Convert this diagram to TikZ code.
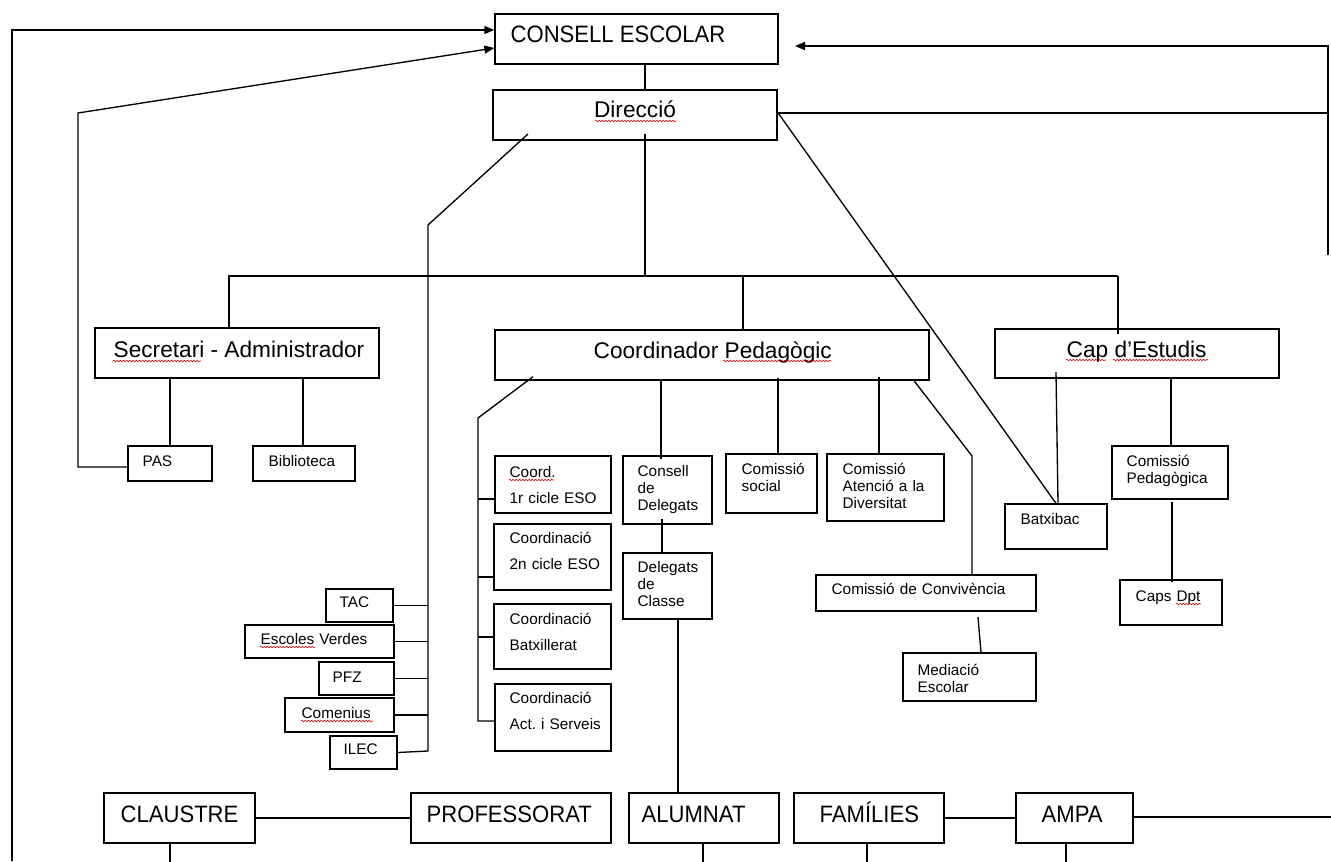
\documentclass[tikz,border=0pt]{standalone}
\usepackage{fontspec}
\setmainfont{Liberation Sans}
\newfontfamily\narrowfont[FakeStretch=0.93]{Liberation Sans}
\usetikzlibrary{arrows.meta,fit,decorations.pathmorphing}
\frenchspacing

\tikzset{every picture/.style={line width=1pt}}
\tikzset{
  box/.style={draw, inner sep=0pt},
  bigtxt/.style={font=\fontsize{17}{20}\selectfont, inner sep=0pt},
  captxt/.style={font=\narrowfont\fontsize{17.8}{20}\selectfont, inner sep=0pt, anchor=base west},
  smalltxt/.style={font=\fontsize{11.5}{13}\selectfont, inner sep=0pt, anchor=base west, align=left, text width=200pt},
  arr/.style={-{Triangle[length=7.5pt,width=6pt]}},
  spell/.style={red!85!black, line width=0.45pt, decorate, decoration={snake, amplitude=0.55pt, segment length=2.4pt}}
}

\begin{document}
\begin{tikzpicture}[x=0.75pt,y=0.75pt,yscale=-1,xscale=1]
\useasboundingbox (0,0) rectangle (1331,861);

%Shape: Rectangles
\node [box, fit={(495,14) (778,64)}] (ce) {};
\node [box, fit={(493,90) (777,140)}] (dir) {};
\node [box, fit={(95,328) (379,378)}] (sec) {};
\node [box, fit={(495,330) (929,380)}] (coord) {};
\node [box, fit={(995,329) (1279,378)}] (cap) {};
\node [box, fit={(128,446) (212,481)}] (pas) {};
\node [box, fit={(253,446) (355,481)}] (bib) {};
\node [box, fit={(495,456) (611,513)}] (c1) {};
\node [box, fit={(494,524) (611,590)}] (c2) {};
\node [box, fit={(494,604) (611,669)}] (cbat) {};
\node [box, fit={(495,684) (611,751)}] (cact) {};
\node [box, fit={(623,456) (712,524)}] (cdel) {};
\node [box, fit={(623,553) (712,619)}] (dcla) {};
\node [box, fit={(726,454) (817,513)}] (csoc) {};
\node [box, fit={(827,454) (944,521)}] (cad) {};
\node [box, fit={(816,575) (1036,611)}] (cconv) {};
\node [box, fit={(903,653) (1036,701)}] (med) {};
\node [box, fit={(1005,504) (1107,549)}] (batx) {};
\node [box, fit={(1112,446) (1228,499)}] (cped) {};
\node [box, fit={(1120,580) (1222,625)}] (dpt) {};
\node [box, fit={(326,589) (393,622)}] (tac) {};
\node [box, fit={(245,625) (394,658)}] (ev) {};
\node [box, fit={(319,662) (394,695)}] (pfz) {};
\node [box, fit={(285,698) (394,732)}] (com) {};
\node [box, fit={(330,736) (397,769)}] (ilec) {};
\node [box, fit={(104,793) (255,843)}] (cla) {};
\node [box, fit={(411,793) (611,843)}] (prof) {};
\node [box, fit={(629,793) (779,843)}] (alu) {};
\node [box, fit={(794,793) (944,843)}] (fam) {};
\node [box, fit={(1016,793) (1133,843)}] (ampa) {};

% Free ends
\coordinate (lb) at (12,861);
\coordinate (rt) at (1328,255);
\coordinate (ceArr) at (795,46);
\coordinate (re) at (1331,817);

%Straight Lines
\draw [arr] (lb) |- (ce.west |- 0,30);
\draw [arr] (pas.west |- 0,467) -- (78,467) -- (78,113) -- (ce.west |- 0,48);
\draw [arr] (rt) |- (ceArr);
\draw (dir.east |- 0,113) -- (1328,113);
\draw (ce.south -| 645,0) -- (dir.north -| 645,0);
\draw ([yshift=-5pt]dir.south -| 528,0) -- (428,225) -- (428,751) -- (ilec.east);
\draw (tac.east) -- (tac.east -| 428,0);
\draw (ev.east) -- (ev.east -| 428,0);
\draw (pfz.east) -- (pfz.east -| 428,0);
\draw (com.east) -- (com.east -| 428,0);
\draw ([yshift=-5pt]dir.south -| 645,0) -- (645,276);
\draw (228,276) -- (1118,276);
\draw (229,276) -- (sec.north -| 229,0);
\draw (743,276) -- (coord.north -| 743,0);
\draw (1118,276) -- ([yshift=4pt]cap.north -| 1118,0);
\draw ([yshift=-2pt]dir.east) -- (batx.north -| 1056,0);
\draw (sec.south -| 170,0) -- (pas.north -| 170,0);
\draw (sec.south -| 303,0) -- (bib.north -| 303,0);
\draw ([yshift=-3pt]coord.south -| 533,0) -- (478,418) -- (478,721) -- (cact.west |- 0,721);
\draw (478,499) -- (c1.west |- 0,499);
\draw (478,577) -- (c2.west |- 0,577);
\draw (478,637) -- (cbat.west |- 0,637);
\draw (coord.south -| 661,0) -- ([yshift=3pt]cdel.north -| 661,0);
\draw ([yshift=-4pt]cdel.south -| 662,0) -- (dcla.north -| 662,0);
\draw (dcla.south -| 678,0) -- (alu.north -| 678,0);
\draw ([yshift=-2pt]coord.south -| 778,0) -- (csoc.north -| 778,0);
\draw ([yshift=-3pt]coord.south -| 879,0) -- (cad.north -| 879,0);
\draw (coord.south -| 914,0) -- (972,456) -- (cconv.north -| 972,0);
\draw ([yshift=4pt]cconv.south -| 978,0) -- (med.north -| 981,0);
\draw ([yshift=-5pt]cap.south -| 1056,0) -- (batx.north -| 1058,0);
\draw (cap.south -| 1171,0) -- (cped.north -| 1171,0);
\draw ([yshift=2pt]cped.south -| 1172,0) -- ([yshift=2pt]dpt.north -| 1172,0);
\draw (cla) -- (prof);
\draw (fam) -- (ampa);
\draw (ampa.east |- re) -- (re);
\draw (cla.south -| 170,0) -- ++(0,18);
\draw (alu.south -| 703,0) -- ++(0,18);
\draw (fam.south -| 867,0) -- ++(0,18);
\draw (ampa.south -| 1066,0) -- ++(0,18);

% Text Node
\node [captxt] (ce-t) at (510,42) {CONSELL ESCOLAR};
\node [bigtxt, anchor=base] (dir-t) at (635,117) {Direcció};
\node [bigtxt, anchor=base west] (sec-t) at (113,357) {Secretari - Administrador};
\node [bigtxt, anchor=base west] (coord-t) at (593,358) {Coordinador Pedagògic};
\node [bigtxt, anchor=base west] (cap-t) at (1066,357) {Cap d’Estudis};
\node [smalltxt] (pas-t) at (142,466) {PAS};
\node [smalltxt] (bib-t) at (268,466) {Biblioteca};
\node [smalltxt] (c1-t) at (509,477) {Coord.\\[6.5pt]1r cicle ESO};
\node [smalltxt] (c2-t) at (509,543) {Coordinació\\[6.5pt]2n cicle ESO};
\node [smalltxt] (cbat-t) at (509,624) {Coordinació\\[6.5pt]Batxillerat};
\node [smalltxt] (cact-t) at (509,703) {Coordinació\\[6.5pt]Act. i Serveis};
\node [smalltxt] (cdel-t) at (637,476) {Consell\\de\\Delegats};
\node [smalltxt] (dcla-t) at (637,572) {Delegats\\de\\Classe};
\node [smalltxt] (csoc-t) at (741,474) {Comissió\\social};
\node [smalltxt] (cad-t) at (842,474) {Comissió\\Atenció a la\\Diversitat};
\node [smalltxt] (cconv-t) at (831,594) {Comissió de Convivència};
\node [smalltxt] (med-t) at (917,675) {Mediació\\Escolar};
\node [smalltxt] (batx-t) at (1020,524) {Batxibac};
\node [smalltxt] (cped-t) at (1126,466) {Comissió\\Pedagògica};
\node [smalltxt] (dpt-t) at (1135,601) {Caps Dpt};
\node [smalltxt] (tac-t) at (339,607) {TAC};
\node [smalltxt] (ev-t) at (260,644) {Escoles Verdes};
\node [smalltxt] (pfz-t) at (332,682) {PFZ};
\node [smalltxt] (com-t) at (301,718) {Comenius};
\node [smalltxt] (ilec-t) at (343,754) {ILEC};
\node [captxt] (cla-t) at (120,822) {CLAUSTRE};
\node [captxt] (prof-t) at (426,822) {PROFESSORAT};
\node [captxt] (alu-t) at (641,822) {ALUMNAT};
\node [captxt] (fam-t) at (819,822) {FAMÍLIES};
\node [captxt] (ampa-t) at (1041,822) {AMPA};

% Spelling marks
\draw [spell] (595,121) -- (676,121);
\draw [spell] (113,361) -- (201,361);
\draw [spell] (723,361) -- (831,361);
\draw [spell] (1066,360) -- (1106,360);
\draw [spell] (1113,360) -- (1208,360);
\draw [spell] (509,480) -- (554,480);
\draw [spell] (260,647) -- (315,647);
\draw [spell] (301,721) -- (373,721);
\draw [spell] (1176,604) -- (1201,604);

\end{tikzpicture}
\end{document}
